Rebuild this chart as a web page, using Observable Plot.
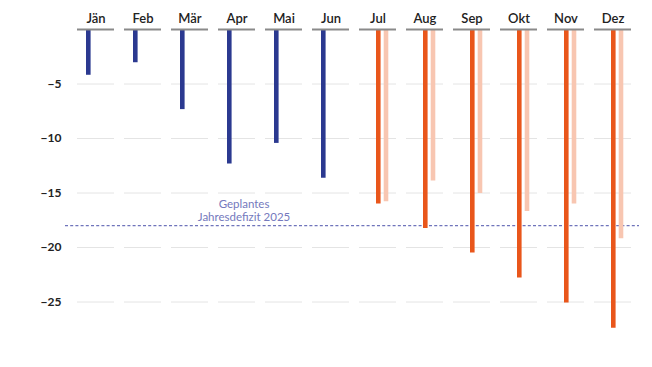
<!DOCTYPE html>
<html>
<head>
<meta charset="utf-8">
<script src="https://cdn.jsdelivr.net/npm/d3@7"></script>
<script src="https://cdn.jsdelivr.net/npm/@observablehq/plot@0.6"></script>
<style>
  html, body { margin: 0; padding: 0; background: #fff; }
  #chart svg { display: block; }
</style>
</head>
<body>
<div id="chart"></div>
<script>
// Monate
const months = ["Jän", "Feb", "Mär", "Apr", "Mai", "Jun", "Jul", "Aug", "Sep", "Okt", "Nov", "Dez"];
// Tatsächliches Defizit (Jän–Jun), Mrd. €
const actualMonths = ["Jän", "Feb", "Mär", "Apr", "Mai", "Jun"];
const actualValues = [-4.2, -3.05, -7.35, -12.35, -10.45, -13.65];
// Prognose (Jul–Dez)
const forecastMonths = ["Jul", "Aug", "Sep", "Okt", "Nov", "Dez"];
const forecastValues = [-16.0, -18.25, -20.5, -22.8, -25.1, -27.4];
// Vergleichswerte (hell)
const compareValues = [-15.8, -13.9, -15.05, -16.7, -16.0, -19.2];
// Geplantes Jahresdefizit
const plannedDeficit = -18;
const plannedLabel = "Geplantes\nJahresdefizit 2025";
// Y-Achse
const yTicks = [-5, -10, -15, -20, -25];

const actual = actualMonths.map((m, i) => ({month: m, value: actualValues[i]}));
const forecast = forecastMonths.map((m, i) => ({month: m, value: forecastValues[i]}));
const compare = forecastMonths.map((m, i) => ({month: m, value: compareValues[i]}));
const grid = months.flatMap(m => yTicks.map(t => ({month: m, value: t})));

const chart = Plot.plot({
  width: 652,
  height: 367,
  marginLeft: 65,
  marginRight: 13,
  marginTop: 29,
  marginBottom: 11,
  style: {fontFamily: "Lato, 'Noto Sans', sans-serif", background: "#fff"},
  x: {type: "band", domain: months, paddingInner: 0.205, paddingOuter: 0.105, align: 0.6},
  y: {domain: [-30, 0]},
  marks: [
    Plot.tickY(grid, {x: "month", y: "value", stroke: "#e4e4e4", strokeWidth: 1}),
    Plot.ruleY([plannedDeficit], {stroke: "#6f74bb", strokeWidth: 1.2, strokeDasharray: "3,2.2"}),
    Plot.text([plannedLabel], {x: () => "Apr", y: () => plannedDeficit, text: d => d, dx: 7, dy: -5,
      lineAnchor: "bottom", lineHeight: 1.12, fontSize: 11.5, fill: "#7479bd", textAnchor: "middle"}),
    Plot.ruleX(actual, {x: "month", y1: 0, y2: "value", stroke: "#2b3990", strokeWidth: 4.6, dx: -7.7}),
    Plot.ruleX(forecast, {x: "month", y1: 0, y2: "value", stroke: "#e9561b", strokeWidth: 4.6, dx: 0.3}),
    Plot.ruleX(compare, {x: "month", y1: 0, y2: "value", stroke: "#f8c6b1", strokeWidth: 4.6, dx: 8}),
    Plot.tickY(months, {x: d => d, y: () => 0, stroke: "#8a8a8a", strokeWidth: 2}),
    Plot.axisX({anchor: "top", tickSize: 0, tickPadding: 7, label: null, fontSize: 13, fontWeight: 600, fill: "#222"}),
    Plot.axisY({ticks: yTicks, tickSize: 0, tickPadding: 4, label: null, fontSize: 12, fontWeight: 700, fill: "#222"})
  ]
});
document.getElementById("chart").appendChild(chart);
</script>
</body>
</html>
